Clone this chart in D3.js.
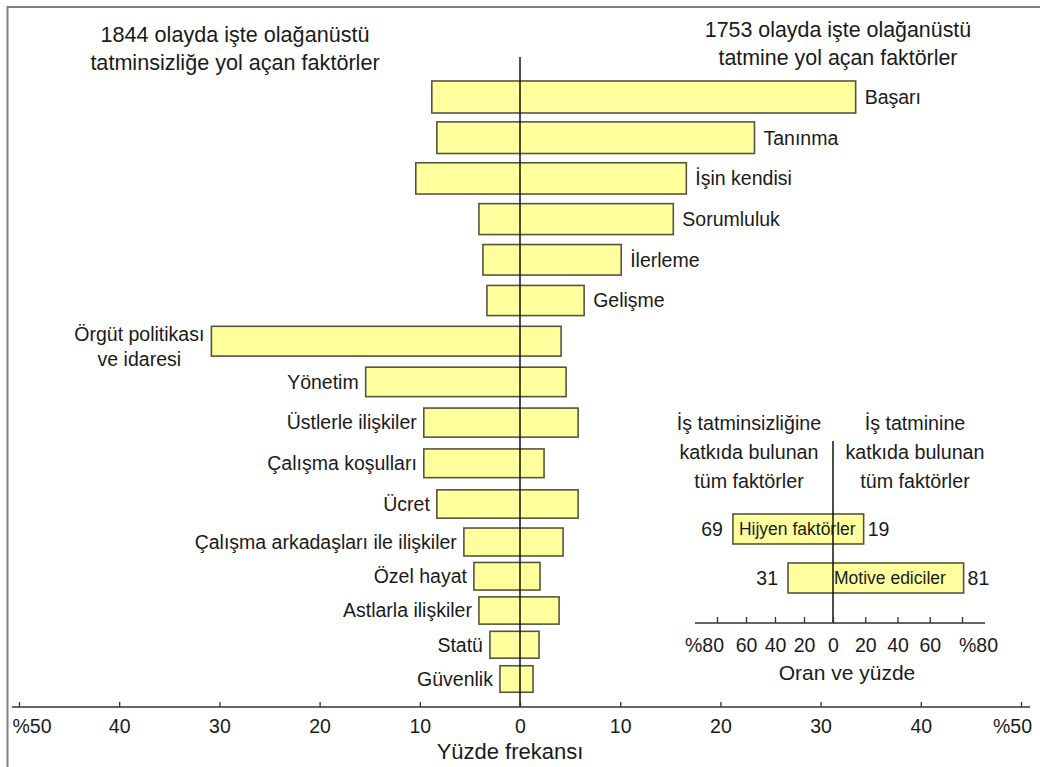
<!DOCTYPE html>
<html>
<head>
<meta charset="utf-8">
<script src="https://cdn.jsdelivr.net/npm/d3@7"></script>
<style>
  body { margin: 0; background: #ffffff; }
  svg text { font-family: "Liberation Sans", Arial, Helvetica, sans-serif; fill: #1a1a1a; }
</style>
</head>
<body>
<svg id="chart" width="1040" height="767"></svg>
<script>
// Factors, top to bottom
const factors = [
  "Başarı", "Tanınma", "İşin kendisi", "Sorumluluk", "İlerleme", "Gelişme",
  "Örgüt politikası\nve idaresi", "Yönetim", "Üstlerle ilişkiler", "Çalışma koşulları",
  "Ücret", "Çalışma arkadaşları ile ilişkiler", "Özel hayat", "Astlarla ilişkiler",
  "Statü", "Güvenlik"
];
// "motive" = motivators (label on the right), "hijyen" = hygiene factors (label on the left)
const factorKind = [
  "motive", "motive", "motive", "motive", "motive", "motive",
  "hijyen", "hijyen", "hijyen", "hijyen", "hijyen", "hijyen", "hijyen", "hijyen",
  "hijyen", "hijyen"
];
// Percentage frequency among the 1844 dissatisfaction events (left side)
const dissatisfactionPct = [8.8, 8.3, 10.4, 4.1, 3.7, 3.3, 30.8, 15.4, 9.6, 9.6, 8.3, 5.6, 4.6, 4.1, 3.0, 2.0];
// Percentage frequency among the 1753 satisfaction events (right side)
const satisfactionPct = [33.5, 23.4, 16.6, 15.3, 10.1, 6.4, 4.1, 4.6, 5.8, 2.4, 5.8, 4.3, 2.0, 3.9, 1.9, 1.3];
const freqTicks = [-50, -40, -30, -20, -10, 0, 10, 20, 30, 40, 50];

// Summary panel
const summaryGroups = ["Hijyen faktörler", "Motive ediciler"];
const summaryDissatisfaction = [69, 31];
const summarySatisfaction = [19, 81];
const summaryTicks = [-80, -60, -40, -20, 0, 20, 40, 60, 80];

const svg = d3.select("#chart");
const ink = "#1a1a1a";
const barFill = "#ffff9e";
const barStroke = "#55553f";
const fontStack = "\"Liberation Sans\", Arial, Helvetica, sans-serif";

// Frame
svg.append("path")
  .attr("d", "M7.5,767 V7 H1040")
  .attr("fill", "none").attr("stroke", "#808080").attr("stroke-width", 2);

// Main scales
const x = d3.scaleLinear().domain([-50, 50]).range([19, 1021]);
const rowY = d3.scaleLinear().domain([0, 10, 11, 15]).range([97, 504, 542, 679]);
const rowH = d3.scaleLinear().domain([0, 15]).range([32, 26.5]);
const axisY = 707;

// Centered multi-line text block
function block(g, lines, cx, y0, lh, size) {
  const t = g.append("text").attr("text-anchor", "middle").style("font-size", size + "px");
  lines.forEach((s, i) => t.append("tspan").attr("x", cx).attr("y", y0 + i * lh).text(s));
  return t;
}
block(svg, ["1844 olayda işte olağanüstü", "tatminsizliğe yol açan faktörler"], 235, 42, 28, 21.6);
block(svg, ["1753 olayda işte olağanüstü", "tatmine yol açan faktörler"], 838, 37, 28, 21.4);

// Bars: each spans from the dissatisfaction share (left) to the satisfaction share (right)
const rows = factors.map((f, i) => ({
  name: f, kind: factorKind[i], left: dissatisfactionPct[i], right: satisfactionPct[i], i
}));

svg.append("g").selectAll("rect").data(rows).join("rect")
  .attr("x", d => x(-d.left))
  .attr("y", d => rowY(d.i) - rowH(d.i) / 2)
  .attr("width", d => x(d.right) - x(-d.left))
  .attr("height", d => rowH(d.i))
  .attr("fill", barFill).attr("stroke", barStroke).attr("stroke-width", 1.6);

// Factor labels
const labels = svg.append("g").style("font-size", "19.5px");
rows.forEach(d => {
  const lines = d.name.split("\n");
  if (d.kind === "motive") {
    labels.append("text").attr("x", x(d.right) + 9).attr("y", rowY(d.i)).attr("dy", "0.35em")
      .text(d.name);
  } else if (lines.length === 1) {
    labels.append("text").attr("x", x(-d.left) - 7).attr("y", rowY(d.i)).attr("dy", "0.35em")
      .attr("text-anchor", "end").text(d.name);
  } else {
    const t = labels.append("text").attr("text-anchor", "middle");
    lines.forEach((s, k) => t.append("tspan").attr("x", 0).attr("y", rowY(d.i) + k * 25).text(s));
    const w = t.node().getBBox().width;
    t.selectAll("tspan").attr("x", x(-d.left) - 7 - w / 2);
  }
});

// Zero line
svg.append("line")
  .attr("x1", x(0)).attr("x2", x(0)).attr("y1", 57).attr("y2", axisY)
  .attr("stroke", "#111").attr("stroke-width", 1.5);

// Main axis
const gx = svg.append("g").attr("transform", `translate(0,${axisY})`)
  .call(d3.axisBottom(x).tickValues(freqTicks).tickSize(-5).tickPadding(12)
    .tickFormat(d => Math.abs(d) === 50 ? "%50" : Math.abs(d)));
gx.select(".domain").remove();
gx.selectAll(".tick line").attr("stroke", "#333").attr("stroke-width", 1.3);
gx.selectAll(".tick text").style("font-size", "19.5px").attr("fill", ink)
  .style("font-family", fontStack);
gx.selectAll(".tick text").filter(d => d === -50).attr("text-anchor", "start").attr("x", -7);
gx.selectAll(".tick text").filter(d => d === 50).attr("dx", -9);
gx.append("line").attr("x1", 12).attr("x2", 1030).attr("y1", 0).attr("y2", 0)
  .attr("stroke", "#333").attr("stroke-width", 1.5);
svg.append("text").attr("x", 510).attr("y", 759).attr("text-anchor", "middle")
  .style("font-size", "22px").text("Yüzde frekansı");

// Summary panel
const xs = d3.scaleLinear().domain([-80, 0, 80]).range([717, 833, 962]);
const ys = d3.scalePoint().domain(summaryGroups).range([529, 578]);
const sAxisY = 623;
const sh = 30;

block(svg, ["İş tatminsizliğine", "katkıda bulunan", "tüm faktörler"], 749, 430, 29, 19.7);
block(svg, ["İş tatminine", "katkıda bulunan", "tüm faktörler"], 915, 430, 29, 19.7);

svg.append("g").selectAll("rect").data(summaryGroups).join("rect")
  .attr("x", (g, i) => xs(-summaryDissatisfaction[i]))
  .attr("y", g => ys(g) - sh / 2)
  .attr("width", (g, i) => xs(summarySatisfaction[i]) - xs(-summaryDissatisfaction[i]))
  .attr("height", sh)
  .attr("fill", barFill).attr("stroke", barStroke).attr("stroke-width", 1.6);

svg.append("line")
  .attr("x1", xs(0)).attr("x2", xs(0)).attr("y1", 441).attr("y2", sAxisY)
  .attr("stroke", "#111").attr("stroke-width", 1.5);

const sl = svg.append("g");
summaryGroups.forEach((g, i) => {
  const left = xs(-summaryDissatisfaction[i]);
  const right = xs(summarySatisfaction[i]);
  sl.append("text").attr("x", i === 0 ? left + 6 : xs(0) + 1).attr("y", ys(g)).attr("dy", "0.35em")
    .style("font-size", "17.5px").text(g);
  sl.append("text").attr("x", left - 10).attr("y", ys(g)).attr("dy", "0.35em")
    .attr("text-anchor", "end").style("font-size", "19.5px").text(summaryDissatisfaction[i]);
  sl.append("text").attr("x", right + 4).attr("y", ys(g)).attr("dy", "0.35em")
    .style("font-size", "19.5px").text(summarySatisfaction[i]);
});

const gs = svg.append("g").attr("transform", `translate(0,${sAxisY})`)
  .call(d3.axisBottom(xs).tickValues(summaryTicks).tickSize(-6).tickPadding(15)
    .tickFormat(d => Math.abs(d) === 80 ? "%80" : Math.abs(d)));
gs.select(".domain").remove();
gs.selectAll(".tick line").attr("stroke", "#333").attr("stroke-width", 1.3);
gs.selectAll(".tick text").style("font-size", "19.5px").attr("fill", ink)
  .style("font-family", fontStack);
gs.selectAll(".tick text").filter(d => d === -80).attr("dx", -13);
gs.selectAll(".tick text").filter(d => d === 80).attr("dx", 16);
gs.append("line").attr("x1", 695).attr("x2", 985).attr("y1", 0).attr("y2", 0)
  .attr("stroke", "#333").attr("stroke-width", 1.5);
svg.append("text").attr("x", 847).attr("y", 680).attr("text-anchor", "middle")
  .style("font-size", "21px").text("Oran ve yüzde");
</script>
</body>
</html>
